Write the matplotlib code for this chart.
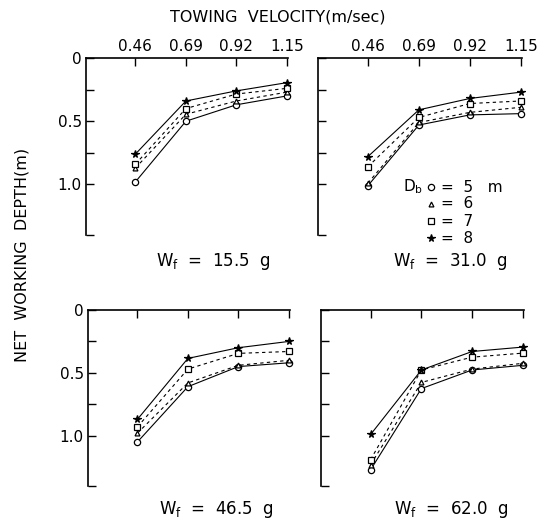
import matplotlib
matplotlib.use("Agg")
import matplotlib.pyplot as plt
from matplotlib.lines import Line2D

plt.rcParams['font.family'] = ['DejaVu Sans']

# towing velocity (m/sec)
velocity = [0.46, 0.69, 0.92, 1.15]
vel_labels = ['0.46', '0.69', '0.92', '1.15']

# net working depth (m), per float weight Wf and depth Db
w155_d5 = [0.98, 0.50, 0.37, 0.30]
w155_d6 = [0.87, 0.445, 0.34, 0.27]
w155_d7 = [0.84, 0.40, 0.285, 0.24]
w155_d8 = [0.76, 0.34, 0.26, 0.195]

w310_d5 = [1.01, 0.53, 0.45, 0.44]
w310_d6 = [0.99, 0.51, 0.43, 0.39]
w310_d7 = [0.86, 0.47, 0.36, 0.34]
w310_d8 = [0.78, 0.41, 0.32, 0.27]

w465_d5 = [1.05, 0.61, 0.45, 0.42]
w465_d6 = [0.98, 0.58, 0.44, 0.40]
w465_d7 = [0.93, 0.47, 0.345, 0.33]
w465_d8 = [0.87, 0.385, 0.30, 0.25]

w620_d5 = [1.27, 0.625, 0.477, 0.44]
w620_d6 = [1.23, 0.576, 0.47, 0.424]
w620_d7 = [1.19, 0.477, 0.375, 0.343]
w620_d8 = [0.99, 0.477, 0.33, 0.295]

weights = ['15.5', '31.0', '46.5', '62.0']
db_values = ['5', '6', '7', '8']

panels = [
    [w155_d5, w155_d6, w155_d7, w155_d8],
    [w310_d5, w310_d6, w310_d7, w310_d8],
    [w465_d5, w465_d6, w465_d7, w465_d8],
    [w620_d5, w620_d6, w620_d7, w620_d8],
]

# style per Db: marker, linestyle, marker face, size
styles = [('o', '-', 'white', 4.5),
          ('^', '--', 'white', 3.5),
          ('s', '--', 'white', 4),
          ('*', '-', 'black', 5.5)]

W, H = 546, 522
fig = plt.figure(figsize=(W / 100, H / 100), dpi=100)

boxes = [(86, 58, 288, 235), (318, 58, 522, 235),
         (88, 310, 290, 486), (321, 310, 524, 486)]
sub_x = [213, 450, 216, 451]
sub_y = [262, 262, 510, 510]

ymax = 1.40
for i, (x0, y0, x1, y1) in enumerate(boxes):
    ax = fig.add_axes([x0 / W, 1 - y1 / H, (x1 - x0) / W, (y1 - y0) / H])
    for k, series in enumerate(panels[i]):
        m, ls, fc, ms = styles[k]
        ax.plot(velocity, series, color='black', lw=0.8, ls=ls,
                dashes=(3, 3) if ls == '--' else (None, None),
                marker=m, ms=ms, mfc=fc, mec='black', mew=0.9, clip_on=False)
    ax.set_xlim(0.235, 1.155)
    ax.set_ylim(ymax, 0)
    for s in ['right', 'bottom']:
        ax.spines[s].set_visible(False)
    for s in ['top', 'left']:
        ax.spines[s].set_linewidth(1.2)
    ax.xaxis.tick_top()
    ax.set_xticks(velocity)
    ax.set_yticks([0, 0.25, 0.5, 0.75, 1.0, ymax])
    ax.tick_params(direction='in', length=6, width=1, colors='black',
                   labelsize=11, pad=3)
    if i < 2:
        ax.set_xticklabels(vel_labels)
    else:
        ax.set_xticklabels([])
    if i % 2 == 0:
        ax.set_yticklabels(['0', '', '0.5', '', '1.0', ''])
    else:
        ax.set_yticklabels([])
    fig.text(sub_x[i] / W, 1 - sub_y[i] / H,
             r'W$_\mathrm{f}$  =  ' + weights[i] + '  g',
             ha='center', va='center', fontsize=12)

fig.text(278 / W, 1 - 17 / H, 'TOWING  VELOCITY(m/sec)',
         ha='center', va='center', fontsize=11.5)
fig.text(22 / W, 1 - 255 / H, 'NET  WORKING  DEPTH(m)', rotation=90,
         ha='center', va='center', fontsize=11.5)

# legend for Db
leg_y = [187, 204, 221, 238]
fig.text(423 / W, 1 - leg_y[0] / H, r'D$_\mathrm{b}$', ha='right',
         va='center', fontsize=11)
for k, yy in enumerate(leg_y):
    m, ls, fc, ms = styles[k]
    fig.add_artist(Line2D([431 / W], [1 - yy / H], transform=fig.transFigure,
                          marker=m, ms=ms, mfc=fc, mec='black', mew=0.9,
                          ls='none', color='black'))
    label = '=  ' + db_values[k] + ('   m' if k == 0 else '')
    fig.text(441 / W, 1 - yy / H, label, ha='left', va='center', fontsize=11)

fig.savefig('out.png', dpi=100, facecolor='white')
